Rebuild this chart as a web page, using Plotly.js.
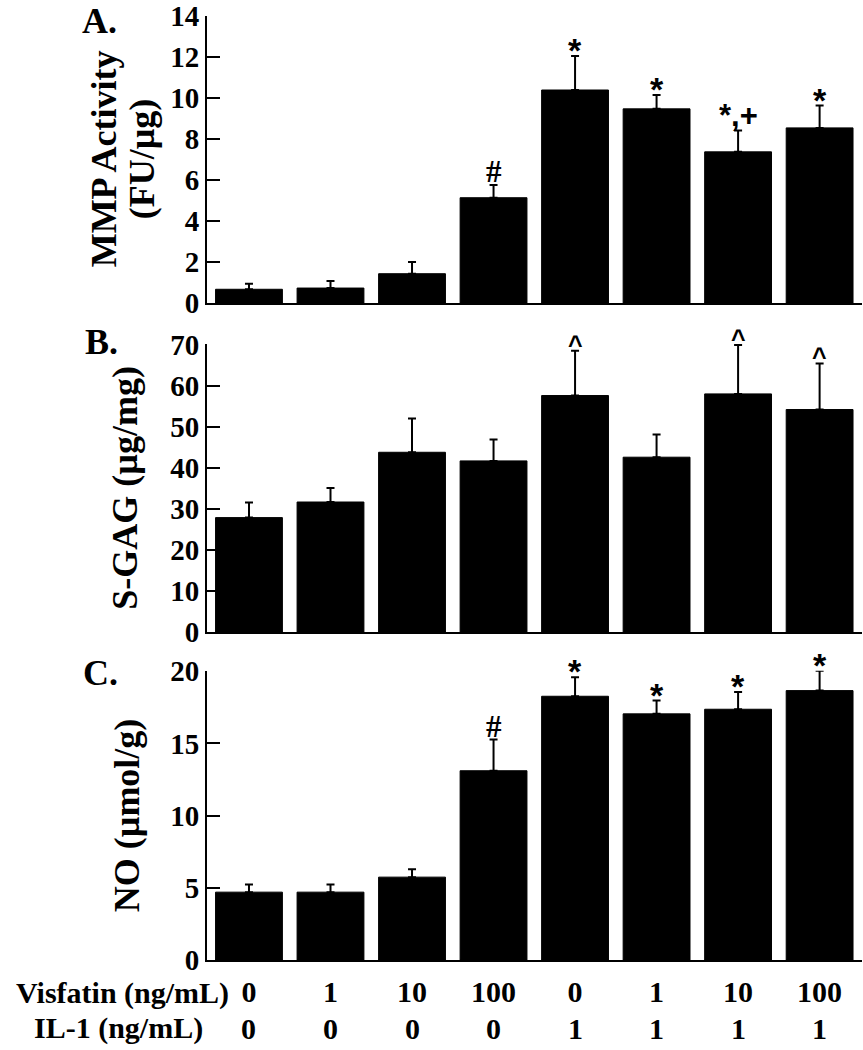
<!DOCTYPE html>
<html><head><meta charset="utf-8">
<script src="https://cdn.plot.ly/plotly-3.0.1.min.js"></script>
<style>html,body{margin:0;padding:0;background:#fff}#chart{width:863px;height:1050px}</style>
</head><body><div id="chart"></div>
<script>
// ---- data ----
const groups = ['V0 IL0','V1 IL0','V10 IL0','V100 IL0','V0 IL1','V1 IL1','V10 IL1','V100 IL1'];
const visfatin = ['0','1','10','100','0','1','10','100'];
const il1 = ['0','0','0','0','1','1','1','1'];
const mmp = [0.67, 0.73, 1.43, 5.14, 10.40, 9.48, 7.38, 8.55];
const mmpErr = [0.27, 0.34, 0.57, 0.62, 1.66, 0.67, 1.04, 1.09];
const mmpSig = ['', '', '', '#', '*', '*', '*,+', '*'];
const sgag = [27.9, 31.7, 43.8, 41.7, 57.6, 42.6, 58.0, 54.2];
const sgagErr = [3.7, 3.4, 8.2, 5.2, 10.9, 5.5, 11.9, 11.2];
const sgagSig = ['', '', '', '', '^', '', '^', '^'];
const no = [4.70, 4.70, 5.74, 13.11, 18.27, 17.05, 17.37, 18.66];
const noErr = [0.53, 0.53, 0.55, 2.16, 1.31, 0.92, 1.20, 1.38];
const noSig = ['', '', '', '#', '*', '*', '*', '*'];
const mmpTicks = [0, 2, 4, 6, 8, 10, 12, 14];
const sgagTicks = [0, 10, 20, 30, 40, 50, 60, 70];
const noTicks = [0, 5, 10, 15, 20];

// ---- layout helpers ----
const W = 863, H = 1050, L = 207, R = 1;
const PW = W - L - R;
const px = x => (x - L) / PW;
const py = y => 1 - y / H;
const serif = 'Liberation Serif, Times New Roman, serif';
const sans = 'Liberation Sans, Arial, sans-serif';
const sf = (size) => ({family: serif, size: size, color: '#000', weight: 'bold'});
const ssf = (size) => ({family: sans, size: size, color: '#000', weight: 'bold'});

function barTrace(vals, errs, xa, ya) {
  return {
    type: 'bar', x: groups, y: vals, xaxis: xa, yaxis: ya,
    marker: {color: '#000', line: {color: '#000', width: 1}},
    error_y: {type: 'data', symmetric: false, array: errs, arrayminus: errs.map(() => 0),
              color: '#000', thickness: 2, width: 4},
    hoverinfo: 'skip', showlegend: false
  };
}

const data = [
  barTrace(mmp, mmpErr, 'x', 'y'),
  barTrace(sgag, sgagErr, 'x2', 'y2'),
  barTrace(no, noErr, 'x3', 'y3')
];

const EPS = 1.002;
const ranges = {y: 14 * EPS, y2: 70 * EPS, y3: 20 * EPS};

const xBase = {type: 'category', range: [-0.515, 7.52], showline: true, linecolor: '#000', linewidth: 2,
  ticks: '', showgrid: false, zeroline: false, showticklabels: false, fixedrange: true};
const yBase = {showline: true, linecolor: '#000', linewidth: 2, ticks: 'inside', ticklen: 13,
  tickwidth: 2, tickcolor: '#000', showgrid: false, zeroline: false, tickfont: sf(29), fixedrange: true,
  tickmode: 'array'};

const annotations = [];
function sigs(arr, vals, errs, xref, yname) {
  arr.forEach((s, i) => {
    if (!s) return;
    const isHash = s === '#';
    const isCaret = s === '^';
    const isCombo = s.length > 1;
    annotations.push({
      x: groups[i], y: (vals[i] + errs[i]) / ranges[yname], xref: xref, yref: yname + ' domain',
      text: s, showarrow: false, xanchor: 'center', yanchor: 'bottom',
      yshift: isHash ? -6 : (isCaret ? -10 : (isCombo ? -4 : -15)),
      font: isHash ? sf(31) : (isCaret ? ssf(25) : (isCombo ? ssf(31) : ssf(34)))
    });
  });
}
sigs(mmpSig, mmp, mmpErr, 'x', 'y');
sigs(sgagSig, sgag, sgagErr, 'x2', 'y2');
sigs(noSig, no, noErr, 'x3', 'y3');

// panel letters
annotations.push({text: 'A.', x: px(99), y: 1, xref: 'paper', yref: 'paper',
  showarrow: false, xanchor: 'center', yanchor: 'top', yshift: 1, font: sf(36)});
[['B.', 101, 342.5], ['C.', 100, 673]].forEach(p => {
  annotations.push({text: p[0], x: px(p[1]), y: py(p[2]), xref: 'paper', yref: 'paper',
    showarrow: false, xanchor: 'center', yanchor: 'middle', font: sf(36)});
});
// y-axis titles
[['MMP Activity', 104, 'y'], ['(FU/µg)', 142, 'y'], ['S-GAG (µg/mg)', 125.5, 'y2'], ['NO (µmol/g)', 127, 'y3']].forEach(t => {
  annotations.push({text: t[0], x: px(t[1]), y: 0.5, xref: 'paper', yref: t[2] + ' domain',
    showarrow: false, textangle: -90, xanchor: 'center', yanchor: 'middle', font: sf(36)});
});
// bottom rows
const rowFont = 30;
annotations.push({text: 'Visfatin (ng/mL)', x: px(231), y: py(993), xref: 'paper', yref: 'paper',
  showarrow: false, xanchor: 'right', yanchor: 'middle', font: sf(rowFont)});
annotations.push({text: 'IL-1 (ng/mL)', x: px(205), y: py(1028), xref: 'paper', yref: 'paper',
  showarrow: false, xanchor: 'right', yanchor: 'middle', font: sf(rowFont)});
il1.forEach((v, i) => {
  annotations.push({text: v, x: groups[i], y: py(1028), xref: 'x3', yref: 'paper',
    showarrow: false, xanchor: 'center', yanchor: 'middle', font: sf(rowFont)});
});

const layout = {
  width: W, height: H, margin: {l: L, r: R, t: 0, b: 0},
  paper_bgcolor: '#fff', plot_bgcolor: '#fff', bargap: 0.18, showlegend: false,
  xaxis: Object.assign({}, xBase, {anchor: 'y'}),
  xaxis2: Object.assign({}, xBase, {anchor: 'y2'}),
  xaxis3: Object.assign({}, xBase, {anchor: 'y3', showticklabels: true, tickmode: 'array', tickvals: groups, ticktext: visfatin,
    tickfont: sf(rowFont), ticklabelstandoff: 4}),
  yaxis: Object.assign({}, yBase, {anchor: 'x', domain: [py(303), py(15.7)], range: [0, ranges.y], tickvals: mmpTicks, ticktext: mmpTicks.map(String)}),
  yaxis2: Object.assign({}, yBase, {anchor: 'x2', domain: [py(632.3), py(344)], range: [0, ranges.y2], tickvals: sgagTicks, ticktext: sgagTicks.map(String)}),
  yaxis3: Object.assign({}, yBase, {anchor: 'x3', domain: [py(960), py(670.7)], range: [0, ranges.y3], tickvals: noTicks, ticktext: noTicks.map(String)}),
  annotations: annotations
};

Plotly.newPlot('chart', data, layout, {displayModeBar: false, staticPlot: true});
</script>
</body></html>
